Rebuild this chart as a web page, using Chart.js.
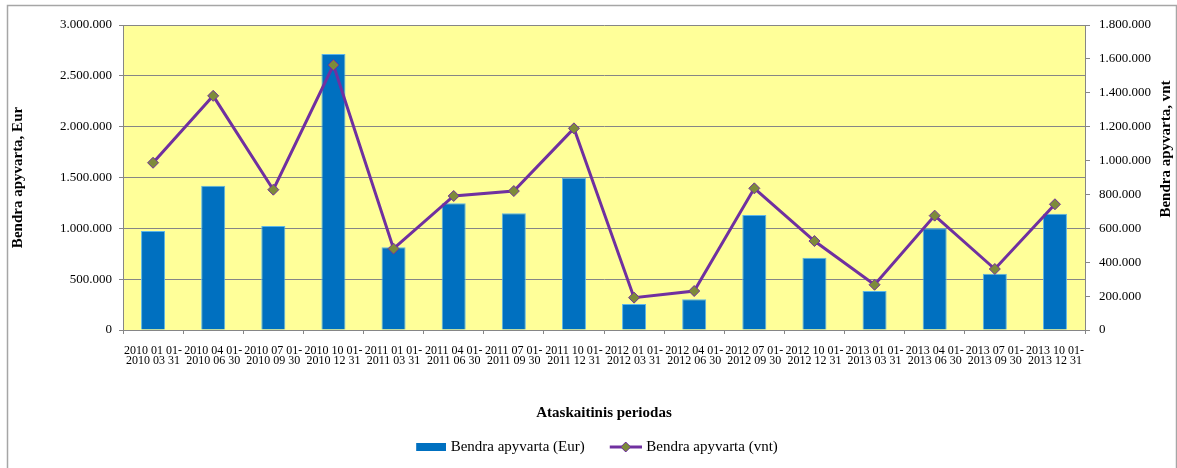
<!DOCTYPE html>
<html>
<head>
<meta charset="utf-8">
<script src="https://cdn.jsdelivr.net/npm/chart.js@4.4.1/dist/chart.umd.min.js"></script>
<style>
  html, body { margin: 0; padding: 0; background: #fff; }
  #wrap { position: relative; width: 1177px; height: 468px; }
</style>
</head>
<body>
<div id="wrap"><canvas id="apyvarta"></canvas></div>
<script>
const categories = [
  '2010 01 01-2010 03 31', '2010 04 01-2010 06 30', '2010 07 01-2010 09 30', '2010 10 01-2010 12 31',
  '2011 01 01-2011 03 31', '2011 04 01-2011 06 30', '2011 07 01-2011 09 30', '2011 10 01-2011 12 31',
  '2012 01 01-2012 03 31', '2012 04 01-2012 06 30', '2012 07 01-2012 09 30', '2012 10 01-2012 12 31',
  '2013 01 01-2013 03 31', '2013 04 01-2013 06 30', '2013 07 01-2013 09 30', '2013 10 01-2013 12 31'
];
// Bendra apyvarta (Eur) - left axis
const revenueEur = [975000, 1420000, 1023000, 2715000, 814000, 1247000, 1149000, 1497000,
  256000, 302000, 1131000, 711000, 384000, 1000000, 554000, 1144000];
// Bendra apyvarta (vnt) - right axis
const revenueUnits = [987000, 1382000, 828000, 1564000, 480000, 791000, 820000, 1190000,
  191000, 230000, 836000, 525000, 267000, 675000, 360000, 742000];

const labels = categories.map(c => {
  const parts = c.split('-');
  return [parts[0] + '-', parts[1]];
});

function fmt(v) {
  return String(v).replace(/\B(?=(\d{3})+(?!\d))/g, '.');
}

const serif = '"Liberation Serif", "Times New Roman", serif';
const gridGrey = '#868686';

// legend symbols as small canvases
function barSymbol() {
  const c = document.createElement('canvas');
  c.width = 50; c.height = 12;
  const g = c.getContext('2d');
  g.fillStyle = '#0070C0';
  g.fillRect(20, 2, 30, 8);
  return c;
}
function lineSymbol() {
  const c = document.createElement('canvas');
  c.width = 50; c.height = 12;
  const g = c.getContext('2d');
  g.strokeStyle = '#7030A0';
  g.lineWidth = 3;
  g.beginPath(); g.moveTo(18, 6); g.lineTo(50, 6); g.stroke();
  g.fillStyle = '#7D8B3A';
  g.lineWidth = 1;
  g.beginPath();
  g.moveTo(34, 1); g.lineTo(39, 6); g.lineTo(34, 11); g.lineTo(29, 6); g.closePath();
  g.fill(); g.stroke();
  return c;
}

const plotBg = {
  id: 'plotBg',
  beforeDraw(chart) {
    const {ctx, chartArea: a} = chart;
    ctx.save();
    ctx.fillStyle = '#fff';
    ctx.fillRect(0, 0, chart.width, chart.height);
    ctx.fillStyle = '#FFFF99';
    ctx.fillRect(a.left, a.top, a.right - a.left, a.bottom - a.top);
    ctx.restore();
  },
  afterDraw(chart) {
    const ctx = chart.ctx;
    ctx.save();
    ctx.strokeStyle = '#a6a6a6';
    ctx.lineWidth = 1.5;
    ctx.strokeRect(7.5, 5.5, 1169, 480);
    // right axis title, reading bottom to top like Excel
    ctx.translate(1166, 149);
    ctx.rotate(-Math.PI / 2);
    ctx.fillStyle = '#000';
    ctx.font = 'bold 15px ' + serif;
    ctx.textAlign = 'center';
    ctx.textBaseline = 'middle';
    ctx.fillText('Bendra apyvarta, vnt', 0, 0);
    ctx.restore();
  }
};

const ctx = document.getElementById('apyvarta');
const chart = new Chart(ctx, {
  data: {
    labels: labels,
    datasets: [
      {
        type: 'bar',
        label: 'Bendra apyvarta (Eur)',
        data: revenueEur,
        yAxisID: 'y',
        backgroundColor: '#0070C0',
        borderColor: '#5BB5E8',
        borderWidth: 1,
        barPercentage: 0.4,
        categoryPercentage: 1,
        order: 1,
      },
      {
        type: 'line',
        label: 'Bendra apyvarta (vnt)',
        data: revenueUnits,
        yAxisID: 'y1',
        borderColor: '#7030A0',
        borderWidth: 3,
        tension: 0,
        pointStyle: 'rectRot',
        pointRadius: 5.5,
        pointBackgroundColor: '#7D8B3A',
        pointBorderColor: '#7030A0',
        pointBorderWidth: 1,
        order: 0,
      },
    ],
  },
  options: {
    responsive: true,
    maintainAspectRatio: false,
    animation: false,
    layout: { padding: { top: 25, left: 0, right: 0, bottom: 3.5 } },
    scales: {
      x: {
        afterFit: (s) => { s.height = 99.5; },
        grid: { display: true, drawOnChartArea: false, tickLength: 4, color: gridGrey, offset: true },
        border: { color: gridGrey },
        ticks: {
          autoSkip: false, maxRotation: 0, minRotation: 0, padding: 12, color: '#000',
          font: { family: serif, size: 12, lineHeight: 0.85 },
        },
        title: {
          display: true, text: 'Ataskaitinis periodas', color: '#000',
          font: { family: serif, size: 15, weight: 'bold' },
          padding: { top: 0, bottom: 7 },
        },
      },
      y: {
        position: 'left',
        min: 0, max: 3000000,
        afterFit: (s) => { s.width = 123; },
        grid: { color: gridGrey, tickLength: 4 },
        border: { color: gridGrey },
        ticks: {
          stepSize: 500000, padding: 7, color: '#000',
          font: { family: serif, size: 13 },
          callback: (v) => fmt(v),
        },
        title: {
          display: true, text: 'Bendra apyvarta, Eur', color: '#000',
          font: { family: serif, size: 15, weight: 'bold' },
          padding: { top: 9, bottom: 0 },
        },
      },
      y1: {
        position: 'right',
        min: 0, max: 1800000,
        afterFit: (s) => { s.width = 92; },
        grid: { drawOnChartArea: false, color: gridGrey, tickLength: 5 },
        border: { color: gridGrey },
        ticks: {
          stepSize: 200000, padding: 9, color: '#000',
          font: { family: serif, size: 13 },
          callback: (v) => fmt(v),
        },
      },
    },
    plugins: {
      tooltip: { enabled: false },
      legend: {
        position: 'bottom',
        labels: {
          usePointStyle: true,
          pointStyleWidth: 44,
          padding: 10,
          color: '#000',
          font: { family: serif, size: 15 },
          generateLabels: (chart) => [
            { text: 'Bendra apyvarta (Eur)', pointStyle: barSymbol(), datasetIndex: 0, fontColor: '#000', lineWidth: 0 },
            { text: 'Bendra apyvarta (vnt)', pointStyle: lineSymbol(), datasetIndex: 1, fontColor: '#000', lineWidth: 0 },
          ],
        },
      },
    },
  },
  plugins: [plotBg],
});
</script>
</body>
</html>
